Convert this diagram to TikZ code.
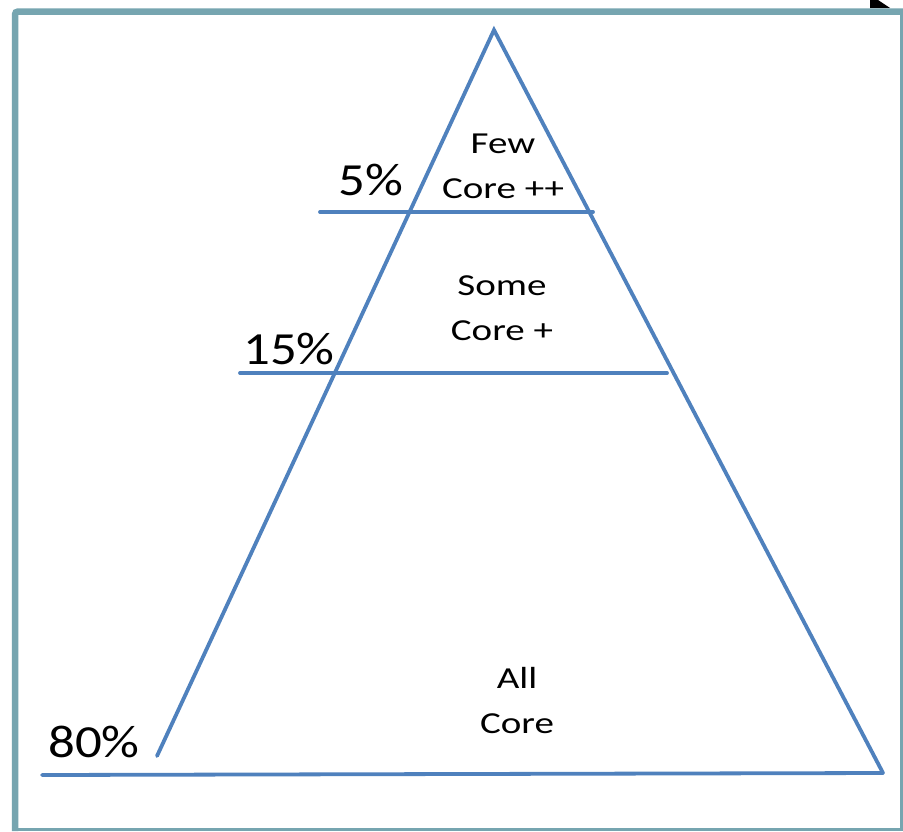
\documentclass[tikz,border=0pt]{standalone}
\usepackage{fontspec}
\setmainfont{Carlito}
\newfontfamily\innerfont[FakeStretch=1.28]{Carlito}
\newfontfamily\pctfont[FakeStretch=1.15]{Carlito}
\definecolor{lineblue}{RGB}{79,129,189}
\definecolor{frameteal}{RGB}{118,165,176}
\begin{document}
\begin{tikzpicture}[x=1pt,y=-1pt,
  bl/.style={draw=lineblue,line width=3.8pt,line cap=round},
  inner/.style={font=\innerfont\fontsize{30.5}{45}\selectfont,align=center,inner sep=0pt},
  pct/.style={font=\pctfont\fontsize{46}{50}\selectfont,inner sep=0pt}]
\useasboundingbox (0,0) rectangle (903,831);
\fill[white] (0,0) rectangle (903,831);
% black blob top right
\fill[black] (870,0) -- (878,0) -- (890,8) -- (870,8) -- cycle;
% frame
\draw[frameteal,line width=6.5pt,rounded corners=3pt] (15,831) -- (15,11.5) -- (903,11.5);
\draw[frameteal,line width=3pt] (15,829) -- (901,829) -- (901,11.5);
% triangle
\coordinate (apex) at (494,30);
\coordinate (lend) at (157,756);
\coordinate (rbase) at (883,773);
\coordinate (bl0) at (42,775);
\coordinate (a1) at (320,212);
\coordinate (b1) at (593,212);
\coordinate (a2) at (240,373);
\coordinate (b2) at (667,373);
\draw[bl] (lend) -- (apex) -- (rbase);
\draw[bl] (bl0) -- (rbase);
\draw[bl] (a1) -- (b1);
\draw[bl] (a2) -- (b2);
% labels
\node[inner] (few) at (503,166) {Few\\Core ++};
\node[inner] (some) at (502,308) {Some\\Core +};
\node[inner] (all) at (517,701) {All\\Core};
\node[pct] (p5) at (371,180) {5\%};
\node[pct] (p15) at (289,349) {15\%};
\node[pct] (p80) at (94,742) {80\%};
\end{tikzpicture}
\end{document}
